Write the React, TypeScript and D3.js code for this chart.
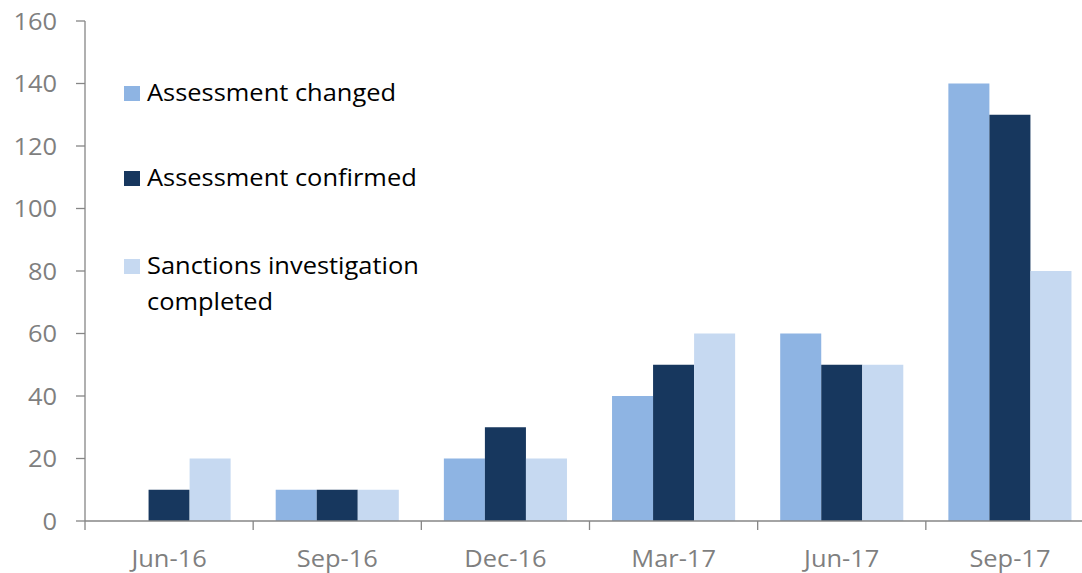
import React from "react";
import * as d3 from "d3";

const categories = ["Jun-16", "Sep-16", "Dec-16", "Mar-17", "Jun-17", "Sep-17"];
const seriesNames = ["Assessment changed", "Assessment confirmed", "Sanctions investigation completed"];
const assessmentChanged = [0, 10, 20, 40, 60, 140];
const assessmentConfirmed = [10, 10, 30, 50, 50, 130];
const sanctionsCompleted = [20, 10, 20, 60, 50, 80];
const yTicks = [0, 20, 40, 60, 80, 100, 120, 140, 160];
const colors = ["#8EB4E3", "#17375E", "#C6D9F1"];

export default function App() {
  const W = 1082, H = 573;
  const left = 85, right = 1094, top = 21, bottom = 521;
  const x = d3.scaleBand<string>().domain(categories).range([left, right]).paddingInner(0.268).paddingOuter(0.134);
  const step = (right - left) / categories.length;
  const x0 = d3.scaleBand<string>().domain(categories).range([left, right]).padding(0);
  const inner = d3.scaleBand<number>().domain([0, 1, 2]).range([0, x.bandwidth()]);
  const y = d3.scaleLinear().domain([0, 160]).range([bottom, top]);
  const series = [assessmentChanged, assessmentConfirmed, sanctionsCompleted];
  const font = "'Open Sans', sans-serif";
  const fs = 24;
  const sx = 1.06;
  const axisColor = "#868686";
  const legend = [
    { y: 86, lines: [seriesNames[0]] },
    { y: 171, lines: [seriesNames[1]] },
    { y: 259, lines: ["Sanctions investigation", "completed"] },
  ];
  return (
    <svg width={W} height={H} style={{ position: "absolute", left: 0, top: 0, background: "#fff" }}>
      {series.map((vals, si) =>
        vals.map((v, ci) => (
          <rect
            key={`${si}-${ci}`}
            x={(x(categories[ci]) as number) + (inner(si) as number)}
            y={y(v)}
            width={inner.bandwidth()}
            height={bottom - y(v)}
            fill={colors[si]}
          />
        ))
      )}
      {/* y axis */}
      <line x1={left} x2={left} y1={top} y2={bottom} stroke={axisColor} strokeWidth={1.3} />
      {yTicks.map((t) => (
        <g key={t}>
          <line x1={left - 9} x2={left} y1={y(t)} y2={y(t)} stroke={axisColor} strokeWidth={1.3} />
          <text transform={`translate(57,${y(t)}) scale(${sx},1)`} dy="0.36em" textAnchor="end" fontFamily={font} fontSize={fs} fill="#7F7F7F">
            {t}
          </text>
        </g>
      ))}
      {/* x axis */}
      <line x1={left} x2={W} y1={bottom} y2={bottom} stroke={axisColor} strokeWidth={1.3} />
      {categories.map((c, i) => (
        <g key={c}>
          <line x1={(x0(c) as number)} x2={(x0(c) as number)} y1={bottom} y2={bottom + 9} stroke={axisColor} strokeWidth={1.3} />
          <text transform={`translate(${(x0(c) as number) + step / 2},567) scale(${sx},1)`} textAnchor="middle" fontFamily={font} fontSize={fs} fill="#7F7F7F">
            {c}
          </text>
        </g>
      ))}
      {/* legend */}
      {legend.map((l, i) => (
        <g key={i}>
          <rect x={124} y={l.y} width={16} height={15} fill={colors[i]} />
          {l.lines.map((ln, j) => (
            <text key={j} transform={`translate(147,${l.y + 15 + j * 36}) scale(${sx},1)`} fontFamily={font} fontSize={fs} fill="#000">
              {ln}
            </text>
          ))}
        </g>
      ))}
    </svg>
  );
}
